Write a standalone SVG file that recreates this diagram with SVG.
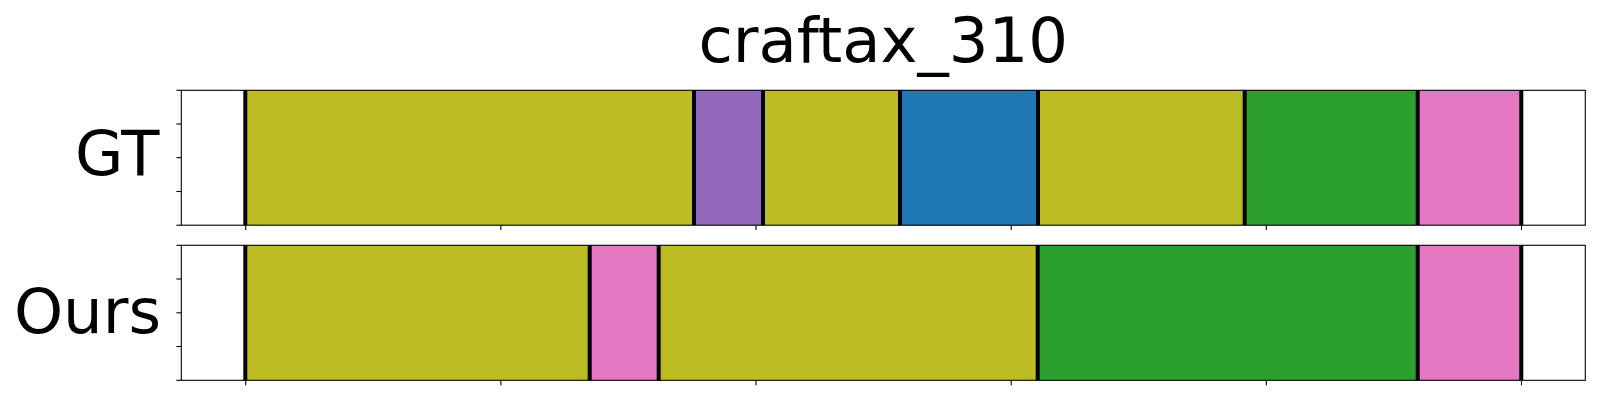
<svg xmlns="http://www.w3.org/2000/svg" width="1600" height="400" viewBox="0 0 1600 400">
<style>
.lbl{font-family:"DejaVu Sans",sans-serif;font-size:62.5px;fill:#000}
.spine{fill:none;stroke:#000;stroke-width:1.1}
.tick{stroke:#000;stroke-width:1.1}
.bnd{stroke:#000;stroke-width:4}
.olive{fill:#bcbd22}.purple{fill:#9467bd}.blue{fill:#1f77b4}.green{fill:#2ca02c}.pink{fill:#e377c2}
</style>
<rect width="1600" height="400" fill="#fff"/>
<text id="title" class="lbl" x="883.3" y="62" text-anchor="middle">craftax_310</text>
<g id="gt">
<text class="lbl" x="159.5" y="175" text-anchor="end">GT</text>
<rect class="olive" x="245.7" y="90.3" width="448.3" height="134.9"/>
<rect class="purple" x="694" y="90.3" width="69" height="134.9"/>
<rect class="olive" x="763" y="90.3" width="137" height="134.9"/>
<rect class="blue" x="900" y="90.3" width="138" height="134.9"/>
<rect class="olive" x="1038" y="90.3" width="206.7" height="134.9"/>
<rect class="green" x="1244.7" y="90.3" width="173" height="134.9"/>
<rect class="pink" x="1417.7" y="90.3" width="104" height="134.9"/>
<g class="bnd">
<line x1="245.3" y1="90.3" x2="245.3" y2="225.2"/>
<line x1="694" y1="90.3" x2="694" y2="225.2"/>
<line x1="763" y1="90.3" x2="763" y2="225.2"/>
<line x1="900" y1="90.3" x2="900" y2="225.2"/>
<line x1="1038" y1="90.3" x2="1038" y2="225.2"/>
<line x1="1244.7" y1="90.3" x2="1244.7" y2="225.2"/>
<line x1="1417.7" y1="90.3" x2="1417.7" y2="225.2"/>
<line x1="1521.3" y1="90.3" x2="1521.3" y2="225.2"/>
</g>
<rect class="spine" x="181.3" y="90.3" width="1404" height="134.9"/>
<g class="tick">
<line x1="176.4" y1="90.3" x2="181.3" y2="90.3"/>
<line x1="176.4" y1="124" x2="181.3" y2="124"/>
<line x1="176.4" y1="157.7" x2="181.3" y2="157.7"/>
<line x1="176.4" y1="191.5" x2="181.3" y2="191.5"/>
<line x1="176.4" y1="225.2" x2="181.3" y2="225.2"/>
<line x1="245.7" y1="225.2" x2="245.7" y2="230.1"/>
<line x1="500.9" y1="225.2" x2="500.9" y2="230.1"/>
<line x1="756" y1="225.2" x2="756" y2="230.1"/>
<line x1="1011.2" y1="225.2" x2="1011.2" y2="230.1"/>
<line x1="1266.3" y1="225.2" x2="1266.3" y2="230.1"/>
<line x1="1521.5" y1="225.2" x2="1521.5" y2="230.1"/>
</g>
</g>
<g id="ours">
<text class="lbl" x="161" y="333" text-anchor="end">Ours</text>
<rect class="olive" x="245.7" y="245.3" width="344" height="135"/>
<rect class="pink" x="589.7" y="245.3" width="69" height="135"/>
<rect class="olive" x="658.7" y="245.3" width="379" height="135"/>
<rect class="green" x="1037.7" y="245.3" width="380" height="135"/>
<rect class="pink" x="1417.7" y="245.3" width="104" height="135"/>
<g class="bnd">
<line x1="245.3" y1="245.3" x2="245.3" y2="380.3"/>
<line x1="589.7" y1="245.3" x2="589.7" y2="380.3"/>
<line x1="658.7" y1="245.3" x2="658.7" y2="380.3"/>
<line x1="1037.7" y1="245.3" x2="1037.7" y2="380.3"/>
<line x1="1417.7" y1="245.3" x2="1417.7" y2="380.3"/>
<line x1="1521.3" y1="245.3" x2="1521.3" y2="380.3"/>
</g>
<rect class="spine" x="181.3" y="245.3" width="1404" height="135"/>
<g class="tick">
<line x1="176.4" y1="245.3" x2="181.3" y2="245.3"/>
<line x1="176.4" y1="279" x2="181.3" y2="279"/>
<line x1="176.4" y1="312.8" x2="181.3" y2="312.8"/>
<line x1="176.4" y1="346.5" x2="181.3" y2="346.5"/>
<line x1="176.4" y1="380.3" x2="181.3" y2="380.3"/>
<line x1="245.7" y1="380.3" x2="245.7" y2="385.2"/>
<line x1="500.9" y1="380.3" x2="500.9" y2="385.2"/>
<line x1="756" y1="380.3" x2="756" y2="385.2"/>
<line x1="1011.2" y1="380.3" x2="1011.2" y2="385.2"/>
<line x1="1266.3" y1="380.3" x2="1266.3" y2="385.2"/>
<line x1="1521.5" y1="380.3" x2="1521.5" y2="385.2"/>
</g>
</g>
</svg>
